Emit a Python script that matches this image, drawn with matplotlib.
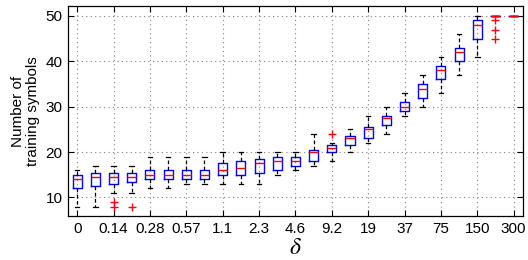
import matplotlib
matplotlib.use("Agg")
import matplotlib.pyplot as plt

plt.rcParams['font.family'] = ['Liberation Sans', 'DejaVu Sans']
plt.rcParams['mathtext.fontset'] = 'stix'

# -----------------------------------
# Data
# -----------------------------------
tick_labels = ["0", "0.14", "0.28", "0.57", "1.1", "2.3", "4.6",
               "9.2", "19", "37", "75", "150", "300"]

q1 = [12, 12.5, 13, 13.5, 14, 14, 14, 14, 15, 15, 15.5, 16, 17,
      18, 20, 21.5, 23, 26, 29, 32, 36, 40, 45, 50, 50]
med = [14, 14.5, 14.5, 14.5, 15, 15, 15, 15, 16, 16.5, 17.5, 18, 18,
       20, 21, 23, 25, 27.5, 30, 34, 38, 42, 48, 50, 50]
q3 = [15, 15.5, 15.5, 15.5, 16, 16, 16, 16, 17.5, 18, 18.5, 19, 19,
      20.5, 21.5, 23.5, 25.5, 28, 31, 35, 39, 43, 49, 50, 50]
whislo = [8, 8, 11, 11, 12, 12, 13, 13, 13, 13, 13, 15, 16,
          17, 18, 20, 22, 24, 28, 30, 33, 37, 41, 50, 50]
whishi = [16, 17, 17, 17, 19, 19, 19, 19, 20, 20, 20, 20, 20,
          24, 22, 25, 28, 30, 33, 37, 41, 46, 50, 50, 50]
# outliers, keyed by box number (1-based)
outliers = {3: [9, 8], 4: [8], 15: [24], 24: [49, 47, 45]}

# -----------------------------------
# Build box stats
# -----------------------------------
stats = []
for i in range(len(med)):
    stats.append(dict(med=med[i], q1=q1[i], q3=q3[i],
                      whislo=whislo[i], whishi=whishi[i],
                      fliers=outliers.get(i + 1, [])))

positions = list(range(1, len(med) + 1))

# -----------------------------------
# Plot
# -----------------------------------
fig = plt.figure(figsize=(5.28, 2.6), dpi=100)
ax = fig.add_axes([0.129, 0.169, 0.861, 0.808])

ax.bxp(stats, positions=positions, widths=0.5, capwidths=0.25,
       showfliers=True,
       boxprops=dict(color="blue", linewidth=1.0),
       medianprops=dict(color="red", linewidth=1.0),
       whiskerprops=dict(color="black", linewidth=0.9, linestyle=(0, (3, 2))),
       capprops=dict(color="black", linewidth=0.9),
       flierprops=dict(marker="+", markeredgecolor="red", markersize=6,
                       markeredgewidth=1.0, linestyle="none"))

ax.set_xlim(0.5, 25.5)
ax.set_ylim(5.9, 52.2)
ax.set_yticks([10, 20, 30, 40, 50])
ax.set_xticks(positions[::2])
ax.set_xticklabels(tick_labels)

ax.set_axisbelow(True)
ax.grid(True, linestyle=(0, (1, 3)), color="0.5", linewidth=0.8)
ax.tick_params(direction="in", top=True, right=True, length=4,
               labelsize=11, pad=4)
for s in ax.spines.values():
    s.set_linewidth(0.9)

ax.set_ylabel("Number of\ntraining symbols", fontsize=11, linespacing=1.05)
ax.yaxis.set_label_coords(-0.062, 0.5)
ax.set_xlabel(r"$\delta$", fontsize=17, labelpad=1)

fig.savefig("out.png", dpi=100)
